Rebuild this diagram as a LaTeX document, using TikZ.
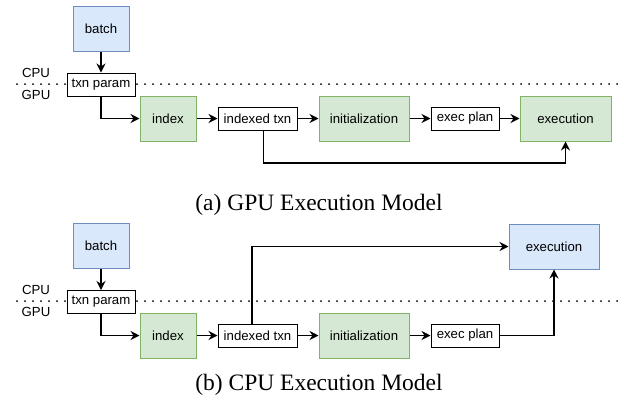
\documentclass[tikz,border=0pt]{standalone}
\usepackage{fontspec}
\setmainfont{Liberation Serif}
\setsansfont{Liberation Sans}
\usetikzlibrary{arrows.meta,calc}
\definecolor{bluefill}{HTML}{DAE8FC}
\definecolor{blueline}{HTML}{6C8EBF}
\definecolor{greenfill}{HTML}{D5E8D4}
\definecolor{greenline}{HTML}{82B366}
\tikzset{
  box/.style={draw, inner sep=0pt, anchor=center, line width=1pt,
    font=\sffamily\fontsize{13.2}{15}\selectfont},
  hostbox/.style={box, fill=bluefill, draw=blueline, minimum width=56pt, minimum height=45pt},
  kernel/.style={box, fill=greenfill, draw=greenline, minimum height=45pt},
  data/.style={box, fill=white, draw=black, minimum height=23pt},
  arr/.style={-{Stealth[length=9pt,width=9pt,inset=3pt]}, line width=1.2pt},
  divider/.style={line width=2pt, line cap=round, dash pattern=on 0pt off 8pt},
  side/.style={font=\sffamily\fontsize{13.2}{15}\selectfont, anchor=center},
  caption/.style={font=\fontsize{23.5}{26}\selectfont, anchor=center}
}
\begin{document}
\begin{tikzpicture}[x=1pt,y=-1pt]
\useasboundingbox (0,0) rectangle (624,405);

% ---------- (a) GPU execution model ----------
\coordinate (divA1) at (17,84);
\coordinate (divA2) at (624,84);
\draw[divider] (divA1) -- (divA2);
\node[side] (cpuA) at (36,73) {CPU};
\node[side] (gpuA) at (36,95) {GPU};

\node[hostbox] (batchA) at (101,29) {batch};
\node[data, minimum width=68pt] (txnA) at (101,84.5) {txn param};
\node[kernel, minimum width=56pt] (indexA) at (168,118.5) {index};
\node[data, minimum width=79pt] (ixtA) at (257.5,118.5) {indexed txn};
\node[kernel, minimum width=90pt] (initA) at (364,118.5) {initialization};
\node[data, minimum width=68pt] (planA) at (465,118.5) {exec plan};
\node[kernel, minimum width=91pt] (execA) at (565.5,118.5) {execution};

\draw[arr] (batchA) -- (txnA);
\draw[arr] (txnA.south) |- (indexA.west);
\draw[arr] (indexA) -- (ixtA);
\draw[arr] (ixtA) -- (initA);
\draw[arr] (initA) -- (planA);
\draw[arr] (planA) -- (execA);
\coordinate (tapA) at ([xshift=6pt]ixtA.south);
\coordinate (lowA) at (0,163);
\draw[arr] (tapA) -- (tapA |- lowA) -| (execA.south);

\node[caption] (capA) at (319,205) {(a) GPU Execution Model};

% ---------- (b) CPU execution model ----------
\coordinate (divB1) at (17,301);
\coordinate (divB2) at (624,301);
\draw[divider] (divB1) -- (divB2);
\node[side] (cpuB) at (36,290) {CPU};
\node[side] (gpuB) at (36,312) {GPU};

\node[hostbox] (batchB) at (101,246) {batch};
\node[data, minimum width=68pt] (txnB) at (101,302) {txn param};
\node[kernel, minimum width=56pt] (indexB) at (168,335.5) {index};
\node[data, minimum width=79pt] (ixtB) at (257.5,335.5) {indexed txn};
\node[kernel, minimum width=90pt] (initB) at (364,335.5) {initialization};
\node[data, minimum width=68pt] (planB) at (465,335.5) {exec plan};
\node[hostbox, minimum width=90pt] (execB) at (554,246.5) {execution};

\draw[arr] (batchB) -- (txnB);
\draw[arr] (txnB.south) |- (indexB.west);
\draw[arr] (indexB) -- (ixtB);
\draw[arr] (ixtB) -- (initB);
\draw[arr] (initB) -- (planB);
\draw[arr] (planB.east) -| (execB.south);
\coordinate (tapB) at ([xshift=-5.5pt]ixtB.north);
\draw[arr] (tapB) |- (execB.west);

\node[caption] (capB) at (319,385) {(b) CPU Execution Model};
\end{tikzpicture}
\end{document}
